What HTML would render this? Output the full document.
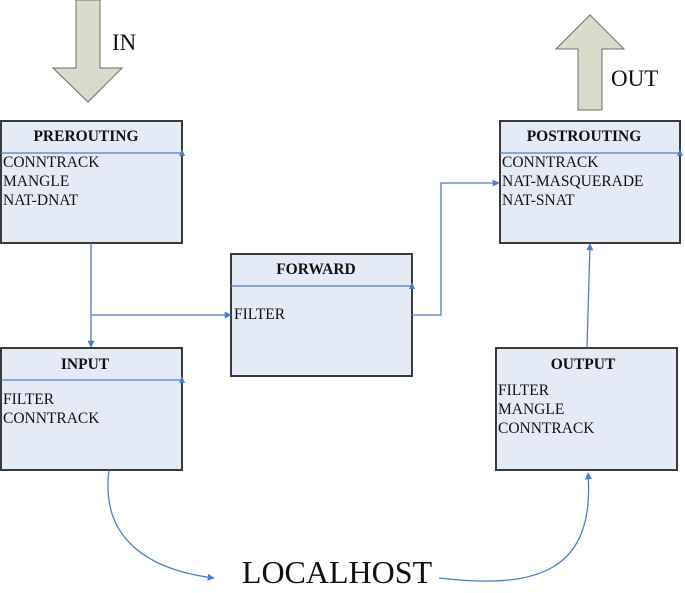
<!DOCTYPE html>
<html><head><meta charset="utf-8"><style>
html,body{margin:0;padding:0;background:#fff;}
svg{display:block;}
text{font-family:"Liberation Serif",serif;fill:#111;}
.t{font-weight:bold;font-size:15.5px;}
.i{font-size:15.5px;}
.box{fill:#e5ebf6;stroke:#3a3a3a;stroke-width:2;}
.ln{stroke:#4f7fc0;stroke-width:1.3;fill:none;}
</style></head><body>
<svg width="685" height="593" viewBox="0 0 685 593" xmlns="http://www.w3.org/2000/svg">
<defs>
<marker id="a" viewBox="0 0 10 10" refX="9" refY="5" markerWidth="7" markerHeight="7" orient="auto-start-reverse" markerUnits="userSpaceOnUse">
<path d="M0,0 L10,5 L0,10 z" fill="#4f7fc0"/></marker>
</defs>
<polygon points="76,0 100,0 100,68 122,68 88,102 53,68 76,68" fill="#d7dbc9" stroke="#6e6e6e" stroke-width="1"/>
<text x="112" y="50" style="font-size:23px">IN</text>
<polygon points="578,110 602,110 602,49 624,49 590,15 556,49 578,49" fill="#d7dbc9" stroke="#6e6e6e" stroke-width="1"/>
<text x="611" y="86" style="font-size:23px">OUT</text>

<rect class="box" x="1" y="121" width="181" height="122"/>
<line class="ln" x1="1" y1="153" x2="182" y2="153"/>
<polygon points="179,156 185,156 182,149" fill="#4f7fc0"/>
<text class="t" x="86" y="141" text-anchor="middle">PREROUTING</text>
<text class="i" x="3" y="167">CONNTRACK</text>
<text class="i" x="3" y="186">MANGLE</text>
<text class="i" x="3" y="205">NAT-DNAT</text>

<rect class="box" x="500" y="121" width="180" height="122"/>
<line class="ln" x1="500" y1="153" x2="680" y2="153"/>
<polygon points="677,156 683,156 680,149" fill="#4f7fc0"/>
<text class="t" x="584" y="141" text-anchor="middle">POSTROUTING</text>
<text class="i" x="502" y="167">CONNTRACK</text>
<text class="i" x="502" y="186">NAT-MASQUERADE</text>
<text class="i" x="502" y="205">NAT-SNAT</text>

<rect class="box" x="231" y="254" width="181" height="122"/>
<line class="ln" x1="231" y1="286" x2="412" y2="286"/>
<polygon points="409,289 415,289 412,282" fill="#4f7fc0"/>
<text class="t" x="316" y="274" text-anchor="middle">FORWARD</text>
<text class="i" x="234" y="319">FILTER</text>

<rect class="box" x="1" y="348" width="181" height="122"/>
<line class="ln" x1="1" y1="380" x2="182" y2="380"/>
<polygon points="179,383 185,383 182,376" fill="#4f7fc0"/>
<text class="t" x="85" y="369" text-anchor="middle">INPUT</text>
<text class="i" x="3" y="404">FILTER</text>
<text class="i" x="3" y="423">CONNTRACK</text>

<rect class="box" x="496" y="348" width="181" height="122"/>
<text class="t" x="583" y="369" text-anchor="middle">OUTPUT</text>
<text class="i" x="498" y="395">FILTER</text>
<text class="i" x="498" y="414">MANGLE</text>
<text class="i" x="498" y="433">CONNTRACK</text>

<line class="ln" x1="91" y1="243" x2="91" y2="347" marker-end="url(#a)"/>
<polyline class="ln" points="91,315 231,315" marker-end="url(#a)"/>
<polyline class="ln" points="412,315 441,315 441,183 499,183" marker-end="url(#a)"/>
<line class="ln" x1="587" y1="348" x2="590" y2="244" marker-end="url(#a)"/>
<path class="ln" d="M109,470 C100,540 150,570 214,578" marker-end="url(#a)"/>
<path class="ln" d="M439,578 C540,590 595,570 588,473" marker-end="url(#a)"/>

<text x="337" y="583" text-anchor="middle" style="font-size:32px">LOCALHOST</text>
</svg>
</body></html>
